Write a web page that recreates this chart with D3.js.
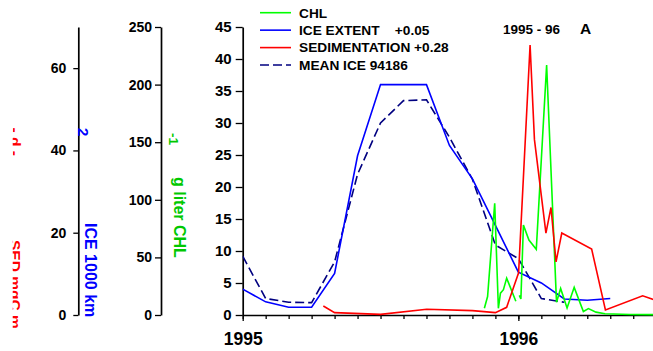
<!DOCTYPE html>
<html>
<head>
<meta charset="utf-8">
<script src="https://cdn.jsdelivr.net/npm/d3@7"></script>
<style>
  body { margin: 0; background: #fff; }
  svg { display: block; }
  text { font-family: "Liberation Sans", Arial, sans-serif; font-weight: bold; white-space: pre; }
</style>
</head>
<body>
<svg id="chart" width="653" height="351"></svg>
<script>
// Time is counted in months since 1 January 1995.

// Ice extent, 1000 km^2 (monthly)
const iceMonths = d3.range(0, 17);
const iceExtent = [6.3, 3.2, 1.9, 1.9, 10.1, 38.7, 56.0, 56.0, 56.0, 41.2, 33.1, 21.8, 10.4, 7.8, 3.9, 3.6, 4.0];

// Long-term mean ice extent 1994-86, 1000 km^2 (monthly)
const meanIceMonths = d3.range(0, 15);
const meanIce = [14.3, 4.0, 3.1, 3.0, 12.9, 34.2, 46.7, 52.1, 52.3, 43.2, 33.0, 17.0, 13.7, 4.0, 3.1];

// Sedimentation, mgC m^-2 d^-1
const sedMonths = [3.51, 4.0, 6.0, 8.01, 10.0, 11.0, 11.49, 12.01, 12.51, 12.70, 13.2, 13.42, 13.64, 13.89, 15.19, 15.79, 17.41, 17.9];
const sedimentation = [1.4, 0.37, 0.1, 0.9, 0.68, 0.37, 1.2, 6.6, 42.2, 27.4, 12.8, 16.8, 8.3, 12.8, 10.3, 0.78, 3.0, 2.4];

// Chlorophyll, ug per liter (null = no sample)
const chlMonths = [10.52, 10.66, 10.97, 11.13, 11.22, 11.35, 11.49, 11.89, 11.96, 12.04, 12.11, 12.22, 12.46, 12.78, 13.23, 13.66, 13.84, 14.12, 14.43, 14.83, 15.05, 15.38, 15.77, 16.86, 17.9];
const chl = [5.8, 16, 97, 5.8, 19, 22, 32, 12, null, 17, 14, 78, 65, 57, 217, 11, 23, 6, 24, 3, 5.6, 2.5, 1.1, 0.4, 0.3];

// Axis ticks
const monthTicks = d3.range(0, 18);
const yearTicks = [0, 12];
const yearLabels = ["1995", "1996"];
const sedTicks = d3.range(0, 46, 5);
const iceTicks = [0, 20, 40, 60];
const chlTicks = d3.range(0, 251, 50);

// Legend
const legendLabels = ["CHL", "ICE EXTENT    +0.05", "SEDIMENTATION +0.28", "MEAN ICE 94186"];
const legendColors = ["#00ff00", "#0000ff", "#ff0000", "#000080"];
const legendDash = [null, null, null, "9,4"];

const svg = d3.select("#chart");

const plotTop = 27, plotBottom = 315, plotLeft = 242.7;

const x = d3.scaleLinear().domain([0, 18]).range([plotLeft, 656.2]);
const ySed = d3.scaleLinear().domain([0, 45]).range([plotBottom, plotTop]);
const yIce = d3.scaleLinear().domain([0, 70]).range([plotBottom, plotTop]);
const yChl = d3.scaleLinear().domain([0, 250]).range([plotBottom, plotTop]);

function styleAxis(g, fontSize) {
  g.attr("font-size", null).attr("font-family", null);
  g.select(".domain").attr("stroke", "#000").attr("stroke-width", 1.7);
  g.selectAll(".tick line").attr("stroke", "#000").attr("stroke-width", 1.3);
  g.selectAll(".tick text").attr("fill", "#000").style("font-size", fontSize + "px");
}

// Left axes
const sedAxis = svg.append("g").attr("transform", `translate(${plotLeft},0)`)
  .call(d3.axisLeft(ySed).tickValues(sedTicks).tickSize(7).tickPadding(4).tickSizeOuter(0));
styleAxis(sedAxis, 15);

const iceAxis = svg.append("g").attr("transform", "translate(78.3,0)")
  .call(d3.axisLeft(yIce).tickValues(iceTicks).tickSize(5).tickPadding(7).tickSizeOuter(0));
styleAxis(iceAxis, 14);

const chlAxis = svg.append("g").attr("transform", "translate(161,0)")
  .call(d3.axisLeft(yChl).tickValues(chlTicks).tickSize(6).tickPadding(3).tickSizeOuter(0));
styleAxis(chlAxis, 14);

// Time axis: monthly minor ticks, yearly labelled ticks
const monthAxis = svg.append("g").attr("transform", `translate(0,${plotBottom})`)
  .call(d3.axisBottom(x).tickValues(monthTicks).tickSize(4).tickFormat("").tickSizeOuter(0));
styleAxis(monthAxis, 10);

const yearAxis = svg.append("g").attr("transform", `translate(0,${plotBottom})`)
  .call(d3.axisBottom(x).tickValues(yearTicks).tickSize(6).tickPadding(12)
    .tickFormat((d, i) => yearLabels[i]).tickSizeOuter(0));
styleAxis(yearAxis, 17.5);
yearAxis.select(".domain").remove();

// Rotated axis titles (reading top to bottom)
function rotText(txt, bx, y, size, color, parent) {
  return (parent || svg).append("text")
    .attr("transform", `translate(${bx},${y}) rotate(90)`)
    .attr("fill", color)
    .style("font-size", size + "px")
    .text(txt);
}

svg.append("clipPath").attr("id", "sedClip")
  .append("rect").attr("x", 12.7).attr("y", 0).attr("width", 40).attr("height", 351);
const sedTitle = svg.append("g").attr("clip-path", "url(#sedClip)");
rotText("SED mgC m", 9.6, 240, 15.5, "#ff0000", sedTitle);
rotText("- d -", 9.6, 127.5, 15.5, "#ff0000", sedTitle);

rotText("ICE 1000 km", 85, 223, 16, "#0000ff");
rotText("2", 77.5, 128, 15, "#0000ff");

rotText("g liter CHL", 173.5, 177, 16, "#00c800");
rotText("-1", 168.5, 133, 13.5, "#00c800");

// Data lines
svg.append("clipPath").attr("id", "plotClip")
  .append("rect").attr("x", plotLeft).attr("y", 0).attr("width", 653 - plotLeft).attr("height", plotBottom + 1);
const plot = svg.append("g").attr("clip-path", "url(#plotClip)");

function drawLine(xs, ys, yScale, color, dash) {
  const pts = xs.map((m, i) => [m, ys[i]]);
  const line = d3.line()
    .defined(d => d[1] != null)
    .x(d => x(d[0]))
    .y(d => yScale(d[1]));
  const p = plot.append("path")
    .datum(pts)
    .attr("d", line)
    .attr("fill", "none")
    .attr("stroke", color)
    .attr("stroke-width", 1.6)
    .attr("stroke-linejoin", "miter");
  if (dash) p.attr("stroke-dasharray", dash);
  return p;
}

drawLine(meanIceMonths, meanIce, yIce, "#000080", "9,4");
drawLine(iceMonths, iceExtent, yIce, "#0000ff");
drawLine(chlMonths, chl, yChl, "#00ff00");
drawLine(sedMonths, sedimentation, ySed, "#ff0000");

// Legend
const legend = svg.append("g");
legendLabels.forEach((lbl, i) => {
  const ly = 12.7 + i * 17.45;
  const l = legend.append("line")
    .attr("x1", 260).attr("x2", 291).attr("y1", ly).attr("y2", ly)
    .attr("stroke", legendColors[i]).attr("stroke-width", 1.6);
  if (legendDash[i]) l.attr("stroke-dasharray", legendDash[i]);
  legend.append("text")
    .attr("x", 299).attr("y", ly + 4.8)
    .style("font-size", "13.7px")
    .attr("fill", "#000")
    .text(lbl);
});

// Season and panel label
svg.append("text").attr("x", 503).attr("y", 34.3).style("font-size", "13.5px").text("1995 - 96");
svg.append("text").attr("x", 580).attr("y", 34.3).style("font-size", "15.5px").text("A");
</script>
</body>
</html>
